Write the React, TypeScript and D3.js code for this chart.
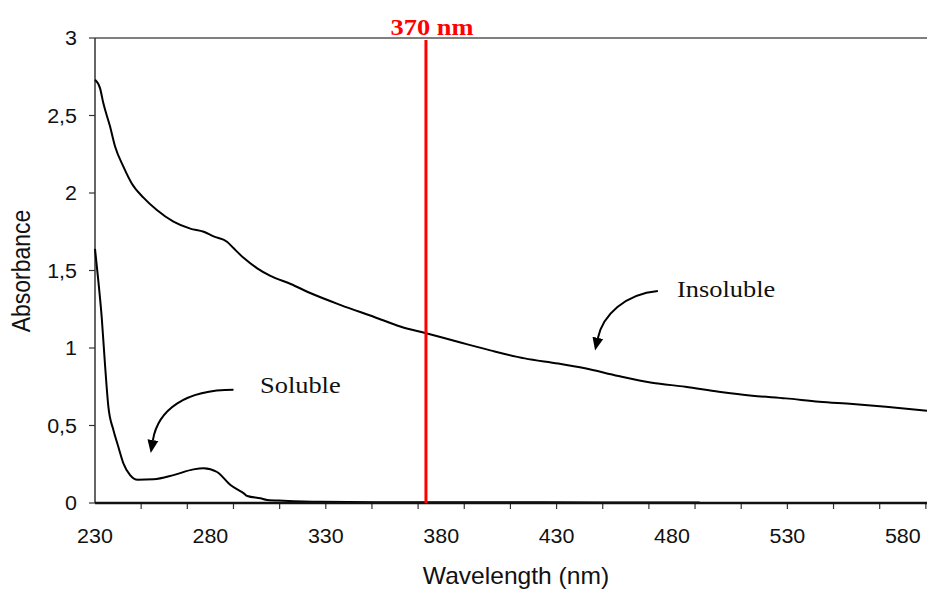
import * as d3 from 'd3';

// wavelength (nm) / absorbance
const insolubleWl = [230, 232.2, 233.6, 236.5, 238.7, 242.3, 246, 251, 256.8, 264, 271.3, 277.1, 281.4, 287.2, 290.1, 294.5, 300.3, 306, 314.8, 323.5, 336.5, 351, 362.6, 373.5, 387.2, 401.7, 416.2, 430.7, 442.3, 456.8, 471.3, 485.8, 500.3, 514.8, 529.3, 543.8, 558.3, 572.7, 590.5];
const insolubleAbs = [2.73, 2.675, 2.58, 2.43, 2.3, 2.17, 2.06, 1.97, 1.89, 1.815, 1.77, 1.75, 1.72, 1.686, 1.643, 1.58, 1.514, 1.465, 1.413, 1.353, 1.277, 1.2, 1.137, 1.095, 1.04, 0.983, 0.933, 0.9, 0.869, 0.819, 0.776, 0.75, 0.718, 0.692, 0.675, 0.654, 0.639, 0.621, 0.595];

const solubleWl = [230, 231.4, 232.9, 234.3, 235.8, 238, 240.1, 242.3, 245.2, 248.5, 255.4, 264, 272.7, 277.1, 282.9, 288.7, 294.5, 296, 301.7, 304.6, 311.7, 327.8, 360, 400, 450, 492];
const solubleAbs = [1.64, 1.44, 1.2, 0.9, 0.62, 0.47, 0.363, 0.256, 0.18, 0.15, 0.153, 0.18, 0.217, 0.224, 0.2, 0.116, 0.062, 0.045, 0.03, 0.02, 0.015, 0.008, 0.005, 0.005, 0.004, 0.004];

const xTickLabels = [230, 280, 330, 380, 430, 480, 530, 580];
const xTickMarks = [250, 270, 290, 310, 330, 350, 370, 390, 410, 430, 450, 470, 490, 510, 530, 550, 570, 590];
const yTickValues = [0, 0.5, 1, 1.5, 2, 2.5, 3];

const markerWl = 373.4;
const markerLabel = '370 nm';

// annotation arrows: start, c1, c2, end (data units)
const solubleArrow = [[290, 0.73], [269, 0.73], [257.3, 0.6], [255.1, 0.406]];
const insolubleArrow = [[473.9, 1.368], [459.6, 1.348], [450.1, 1.213], [447.9, 1.065]];
const solubleLabelAt = [301.5, 0.71];
const insolubleLabelAt = [482.2, 1.329];

const W = 927;
const H = 590;
const left = 95;
const right = 927;
const top = 38;
const bottom = 503;

const x = d3.scaleLinear().domain([230, 590.5]).range([left, right]);
const y = d3.scaleLinear().domain([0, 3]).range([bottom, top]);

function curvePath(wl: number[], abs: number[]) {
    return d3
        .line<number>()
        .x((_d, i) => x(wl[i]))
        .y((d) => y(d))
        .curve(d3.curveMonotoneX)(abs) as string;
}

function arrowPath(p: number[][]) {
    const q = p.map(([a, b]) => [x(a), y(b)]);
    const path = d3.path();
    path.moveTo(q[0][0], q[0][1]);
    path.bezierCurveTo(q[1][0], q[1][1], q[2][0], q[2][1], q[3][0], q[3][1]);
    return path.toString();
}

const fmt = (v: number) => String(v).replace('.', ',');
const sans = '"Liberation Sans", Arial, sans-serif';
const serif = '"Liberation Serif", "Times New Roman", serif';

export default function App() {
    return (
        <svg width={W} height={H} style={{ position: 'absolute', left: 0, top: 0, background: '#fff' }}>
            <defs>
                <marker id="head" markerUnits="userSpaceOnUse" markerWidth="14" markerHeight="12" refX="0" refY="6" orient="auto" viewBox="0 0 14 12">
                    <path d="M0,0.5L13,6L0,11.5Z" fill="#000" />
                </marker>
            </defs>

            {/* frame */}
            <line x1={left} x2={right} y1={top} y2={top} stroke="#555" strokeWidth={1.5} />
            <line x1={left} x2={left} y1={top} y2={bottom} stroke="#333" strokeWidth={1.5} />

            {/* y ticks */}
            {yTickValues.map((v) => (
                <g key={v}>
                    <line x1={left - 6} x2={left} y1={y(v)} y2={y(v)} stroke="#333" strokeWidth={1.2} />
                    <text
                        transform={`translate(77,${y(v) + 7}) scale(1.1,1)`}
                        textAnchor="end"
                        fontFamily={sans}
                        fontSize={19.5}
                        fill="#111"
                    >
                        {fmt(v)}
                    </text>
                </g>
            ))}

            {/* x ticks */}
            {xTickMarks.map((v) => (
                <line key={v} x1={x(v)} x2={x(v)} y1={bottom} y2={bottom + 6} stroke="#333" strokeWidth={1.2} />
            ))}
            {xTickLabels.map((v) => (
                <text
                    key={v}
                    transform={`translate(${x(v)},${bottom + 40}) scale(1.1,1)`}
                    textAnchor="middle"
                    fontFamily={sans}
                    fontSize={19.5}
                    fill="#111"
                >
                    {v}
                </text>
            ))}

            <text transform={`translate(516,584) scale(1.07,1)`} textAnchor="middle" fontFamily={sans} fontSize={23} fill="#111">
                Wavelength (nm)
            </text>
            <text transform={`translate(30,271) scale(1.1,1) rotate(-90)`} textAnchor="middle" fontFamily={sans} fontSize={23} fill="#111">
                Absorbance
            </text>

            {/* spectra */}
            <path d={curvePath(insolubleWl, insolubleAbs)} fill="none" stroke="#000" strokeWidth={2} />
            <path d={curvePath(solubleWl, solubleAbs)} fill="none" stroke="#000" strokeWidth={2} />

            {/* bottom axis drawn over the flat soluble tail */}
            <line x1={left} x2={right} y1={bottom} y2={bottom} stroke="#111" strokeWidth={2.5} />

            {/* 370 nm marker */}
            <line x1={x(markerWl)} x2={x(markerWl)} y1={top + 2} y2={bottom} stroke="#ff0000" strokeWidth={3} />
            <text
                transform={`translate(${x(markerWl) + 6},35) scale(1.1,1)`}
                textAnchor="middle"
                fontFamily={serif}
                fontWeight="bold"
                fontSize={24}
                fill="#ff0000"
            >
                {markerLabel}
            </text>

            {/* annotations */}
            <path d={arrowPath(solubleArrow)} fill="none" stroke="#000" strokeWidth={2} markerEnd="url(#head)" />
            <path d={arrowPath(insolubleArrow)} fill="none" stroke="#000" strokeWidth={2} markerEnd="url(#head)" />
            <text
                transform={`translate(${x(solubleLabelAt[0])},${y(solubleLabelAt[1])}) scale(1.1,1)`}
                fontFamily={serif}
                fontSize={24}
                fill="#111"
            >
                Soluble
            </text>
            <text
                transform={`translate(${x(insolubleLabelAt[0])},${y(insolubleLabelAt[1])}) scale(1.1,1)`}
                fontFamily={serif}
                fontSize={24}
                fill="#111"
            >
                Insoluble
            </text>
        </svg>
    );
}
